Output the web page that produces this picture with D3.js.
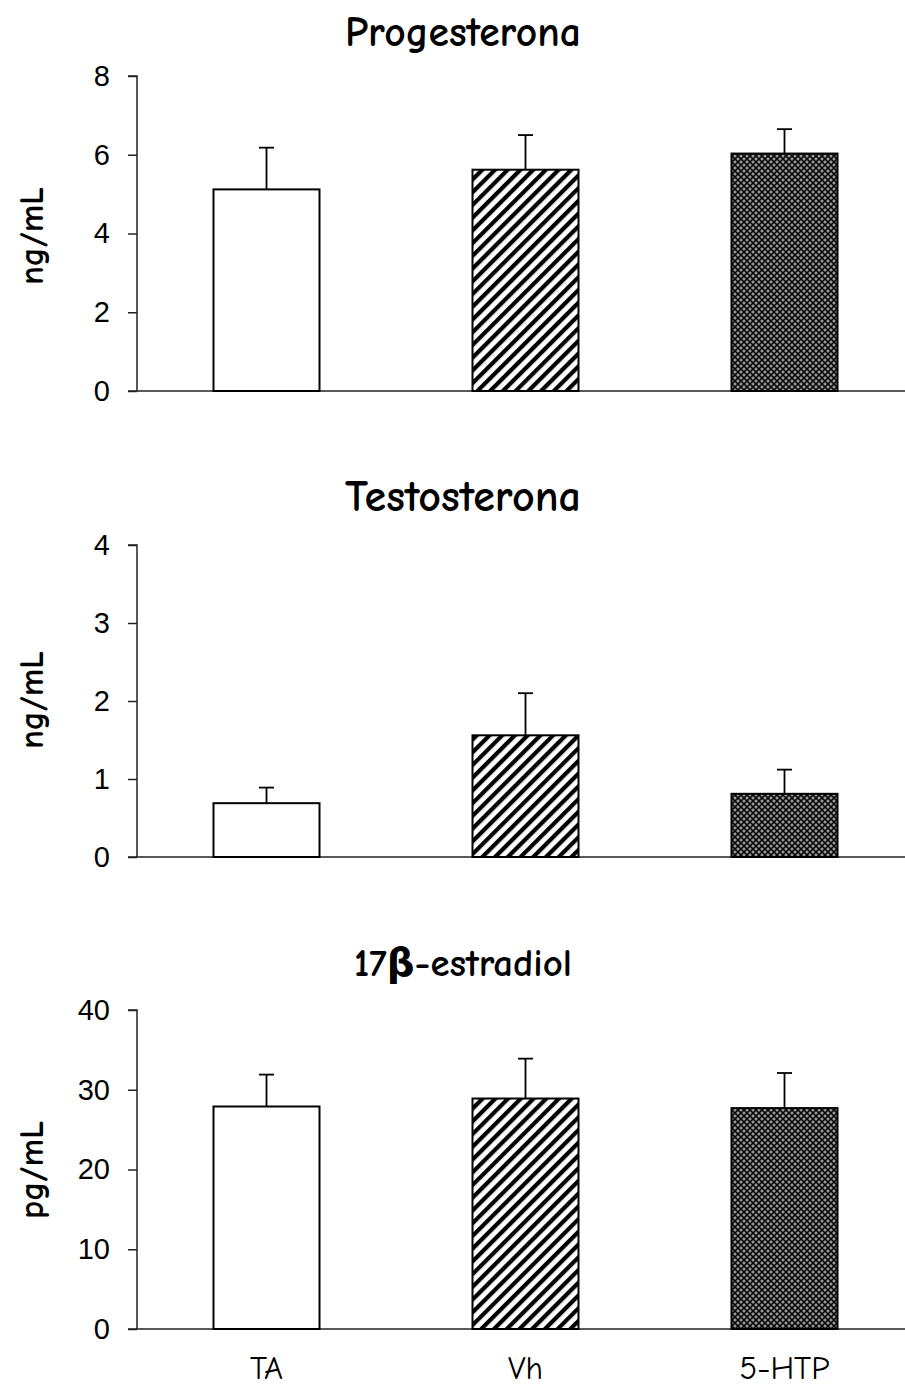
<!DOCTYPE html>
<html><head><meta charset="utf-8">
<script src="https://cdn.jsdelivr.net/npm/d3@7"></script>
<style>body{margin:0;background:#fff}svg{display:block}</style>
</head><body>
<script>
const categories = ["TA", "Vh", "5-HTP"];
const panelTitles = ["Progesterona", "Testosterona", "17β-estradiol"];
const unitLabels = ["ng/mL", "ng/mL", "pg/mL"];
const progMeans = [5.12, 5.62, 6.03];
const progErrors = [1.06, 0.88, 0.62];
const testMeans = [0.69, 1.56, 0.81];
const testErrors = [0.20, 0.54, 0.31];
const estrMeans = [27.9, 28.9, 27.7];
const estrErrors = [4.0, 5.0, 4.4];
const yMaxes = [8, 4, 40];
const yTicks = [[0,2,4,6,8],[0,1,2,3,4],[0,10,20,30,40]];

const W = 905, H = 1387;
const svg = d3.select("body").append("svg").attr("width", W).attr("height", H);
const defs = svg.append("defs");

// hatch pattern
const hatch = defs.append("pattern").attr("id","hatch").attr("patternUnits","userSpaceOnUse")
  .attr("width",9).attr("height",9).attr("patternTransform","rotate(45)");
hatch.append("rect").attr("width",9).attr("height",9).attr("fill","#fff");
hatch.append("rect").attr("x",0).attr("y",0).attr("width",4.2).attr("height",9).attr("fill","#000");

// crosshatch pattern
const cross = defs.append("pattern").attr("id","cross").attr("patternUnits","userSpaceOnUse")
  .attr("width",6).attr("height",6);
cross.append("rect").attr("width",6).attr("height",6).attr("fill","#6e6e6e");
cross.append("path").attr("d","M0,0L6,6M6,0L0,6").attr("stroke","#0a0a0a").attr("stroke-width",1.4);
cross.append("circle").attr("cx",3).attr("cy",0).attr("r",0.8).attr("fill","#cfcfcf");
cross.append("circle").attr("cx",0).attr("cy",3).attr("r",0.8).attr("fill","#cfcfcf");
cross.append("circle").attr("cx",6).attr("cy",3).attr("r",0.8).attr("fill","#cfcfcf");
cross.append("circle").attr("cx",3).attr("cy",6).attr("r",0.8).attr("fill","#cfcfcf");

const fills = ["#fff", "url(#hatch)", "url(#cross)"];
const comic = "'Comic Sans MS','Comic Neue','DejaVu Sans',sans-serif";

const panels = [
  {means: progMeans, errs: progErrors, top: 76, bottom: 391, titleY: 46, labelY: 236},
  {means: testMeans, errs: testErrors, top: 545, bottom: 857, titleY: 511, labelY: 700},
  {means: estrMeans, errs: estrErrors, top: 1010, bottom: 1329, titleY: 976, labelY: 1170}
];
const axisX = 137;
const x = d3.scaleBand().domain(categories).range([137, 914]).padding(0);
const barW = 106;

function fitText(sel, target) {
  const len = sel.node().getComputedTextLength();
  const fs = parseFloat(sel.attr("font-size"));
  const nfs = fs * target / len;
  sel.attr("font-size", nfs);
  return nfs;
}

panels.forEach((p, i) => {
  const y = d3.scaleLinear().domain([0, yMaxes[i]]).range([p.bottom, p.top]);
  const g = svg.append("g");

  // title
  const t = g.append("text").attr("x", 463).attr("y", p.titleY).attr("text-anchor","middle")
    .attr("font-family", comic).attr("font-weight","bold").attr("font-size", 28).text(panelTitles[i]);
  fitText(t, i === 2 ? 218 : 236);

  // y label
  const yl = g.append("text").attr("transform", `translate(43,${p.labelY}) rotate(-90)`)
    .attr("text-anchor","middle").attr("font-family", comic).attr("font-weight","bold")
    .attr("font-size", 22).text(unitLabels[i]);
  fitText(yl, 98);

  // y axis
  const ax = g.append("g").attr("transform", `translate(${axisX},0)`)
    .call(d3.axisLeft(y).tickValues(yTicks[i]).tickSize(9).tickPadding(18).tickFormat(d3.format("d")));
  ax.select(".domain").attr("stroke","#222").attr("stroke-width",1.5).attr("d", `M-9,${p.top}H0V${p.bottom}`);
  ax.selectAll(".tick line").attr("stroke","#222").attr("stroke-width",1.5);
  ax.selectAll(".tick text").attr("font-family","'Liberation Sans',Arial,sans-serif").attr("font-size",29).attr("fill","#000");

  // x axis line
  g.append("line").attr("x1", 128).attr("x2", 905).attr("y1", p.bottom).attr("y2", p.bottom)
    .attr("stroke","#222").attr("stroke-width",1.5);

  // error bars
  categories.forEach((c, j) => {
    const cx = x(c) + x.bandwidth()/2;
    g.append("line").attr("x1",cx).attr("x2",cx).attr("y1",y(p.means[j])).attr("y2",y(p.means[j]+p.errs[j]))
      .attr("stroke","#000").attr("stroke-width",1.8);
    g.append("line").attr("x1",cx-7.5).attr("x2",cx+7.5).attr("y1",y(p.means[j]+p.errs[j])).attr("y2",y(p.means[j]+p.errs[j]))
      .attr("stroke","#000").attr("stroke-width",1.8);
  });

  // bars
  g.selectAll("rect.bar").data(categories).enter().append("rect").attr("class","bar")
    .attr("x", c => x(c) + x.bandwidth()/2 - barW/2)
    .attr("width", barW)
    .attr("y", (c, j) => y(p.means[j]))
    .attr("height", (c, j) => p.bottom - y(p.means[j]))
    .attr("fill", (c, j) => fills[j])
    .attr("stroke","#000").attr("stroke-width",2);
});

// x labels
const xl = svg.selectAll("text.xlab").data(categories).enter().append("text").attr("class","xlab")
  .attr("x", c => x(c) + x.bandwidth()/2).attr("y", 1379).attr("text-anchor","middle")
  .attr("font-family", comic).attr("font-size", 27).text(c => c);
const ref = xl.filter(c => c === "5-HTP");
const fs = fitText(ref, 90);
xl.attr("font-size", fs);
</script>
</body></html>
